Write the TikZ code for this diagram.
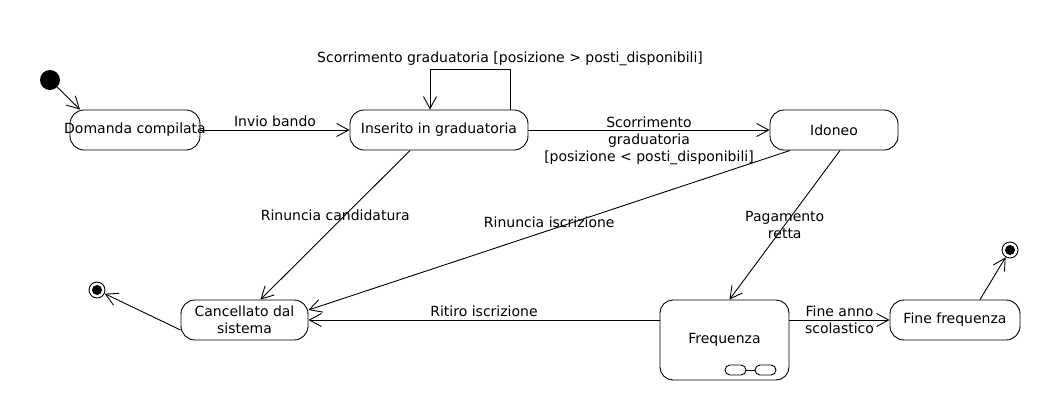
\documentclass[tikz,border=0pt]{standalone}
\usepackage{fontspec}
\setmainfont{DejaVu Sans}
\usetikzlibrary{arrows.meta}

\tikzset{
  state/.style={draw, rounded corners=14pt, minimum width=130pt, minimum height=40pt, inner sep=0pt},
  initial/.style={circle, fill=black, minimum size=20pt, inner sep=0pt},
  final/.style={circle, draw, minimum size=16pt, inner sep=0pt,
    path picture={\fill (path picture bounding box.center) circle (5pt);}},
  trans/.style={->},
  lbl/.style={align=center, font=\fontsize{14}{17}\selectfont}
}

\begin{document}
\begin{tikzpicture}[x=1pt, y=-1pt, line width=0.9pt, >={Straight Barb[length=12pt,width=13pt]}, font=\fontsize{14}{17}\selectfont]
  \useasboundingbox (0,0) rectangle (1050,400);

  % states
  \node (start) [initial] at (50,80) {};
  \node (dom) [state] at (135,130) {\makebox[0pt]{Domanda compilata}};
  \node (ins) [state, minimum width=178pt] at (439,130) {Inserito in graduatoria};
  \node (ido) [state, minimum width=128pt] at (834,130) {Idoneo};
  \node (can) [state, minimum width=127pt, align=center] at (244.5,320) {Cancellato dal\\sistema};
  \node (freq) [state, minimum width=129pt, minimum height=80pt, rounded corners=13pt] at (724.5,340) {Frequenza};
  \node (fin) [state] at (955,320) {Fine frequenza};
  \node (endL) [final] at (97,290) {};
  \node (endR) [final] at (1010,250) {};

  % composite icon
  \draw [rounded corners=5pt] (725,365) rectangle (746,375);
  \draw [rounded corners=5pt] (755,365) rectangle (776,375);
  \draw (746,370) -- (755,370);

  % transitions
  \draw [trans] (start) -- ([xshift=-55pt]dom.north);
  \draw [trans] (dom.east) -- node [lbl, above] {Invio bando} (ins.west);
  \draw [trans] ([xshift=71pt]ins.north) -- ++(0,-40)
    node [lbl, above] {Scorrimento graduatoria [posizione > posti\_disponibili]}
    -| ([xshift=-9pt]ins.north);
  \draw [trans] (ins.east) -- node [lbl, yshift=-11pt] {Scorrimento\\graduatoria\\[0pt][posizione < posti\_disponibili]} (ido.west);
  \draw [trans] ([xshift=-29pt]ins.south) -- node [lbl, yshift=10pt] {Rinuncia candidatura} ([xshift=16pt]can.north);
  \draw [trans] ([xshift=-44pt]ido.south) -- node [lbl, yshift=8pt] {Rinuncia iscrizione} ([yshift=10pt]can.east);
  \draw [trans] ([xshift=6pt]ido.south) -- node [lbl] {Pagamento\\retta} ([xshift=5pt]freq.north);
  \draw [trans] ([yshift=20pt]freq.west) -- node [lbl, above] {Ritiro iscrizione} (can.east);
  \draw [trans] ([yshift=20pt]freq.east) -- node [lbl] {Fine anno\\scolastico} (fin.west);
  \draw [trans] ([yshift=-10pt]can.west) -- (endL);
  \draw [trans] ([xshift=25pt]fin.north) -- (endR);
\end{tikzpicture}
\end{document}
